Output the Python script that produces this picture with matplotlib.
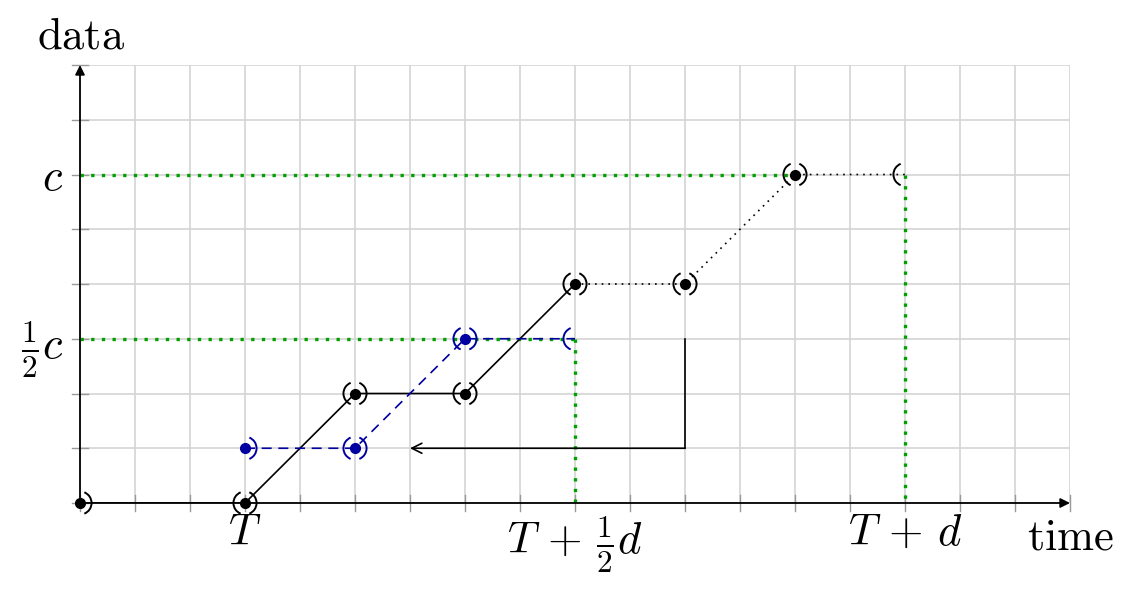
import numpy as np
import matplotlib.pyplot as plt
from matplotlib.patches import Arc

plt.rcParams['mathtext.fontset'] = 'cm'
plt.rcParams['font.family'] = 'serif'
plt.rcParams['font.serif'] = ['cmr10', 'DejaVu Serif']
plt.rcParams['axes.formatter.use_mathtext'] = True

# data
main_x = [0, 3, 5, 7, 9]
main_y = [0, 0, 2, 2, 4]
dot_x = [9, 11, 13, 15]
dot_y = [4, 4, 6, 6]
blue_x = [3, 5, 7, 9]
blue_y = [1, 1, 3, 3]
arrow_path_x = [11, 11, 6]
arrow_path_y = [3, 1, 1]

# which marks to draw at each point: "(" left arc, ")" right arc, "." dot
main_marks = [".R", ".LR", ".LR", ".LR", ".LR"]
dot_marks = [".LR", ".LR", ".LR", "L"]
blue_marks = [".R", ".LR", ".LR", "L"]

xtick_pos = [3, 9, 15]
xtick_lab = [r"$T$", r"$T\,+\,\frac{1}{2}d$", r"$T\,+\,d$"]
ytick_pos = [3, 6]
ytick_lab = [r"$\frac{1}{2}c$", r"$c$"]

green = "#00a000"
blue = "#0000a0"
grid_c = "#d4d4d4"

fig = plt.figure(figsize=(11.33, 5.91), dpi=100)
ax = fig.add_axes([80 / 1133, 88 / 591, 990 / 1133, 438 / 591])
ax.set_xlim(0, 18)
ax.set_ylim(0, 8)
for s in ax.spines.values():
    s.set_visible(False)

# grid
for gx in range(19):
    ax.plot([gx, gx], [0, 8], color=grid_c, lw=1.2, zorder=0)
    ax.plot([gx, gx], [-0.15, 0.15], color="#999999", lw=1.0, zorder=1, clip_on=False)
for gy in range(9):
    ax.plot([0, 18], [gy, gy], color=grid_c, lw=1.2, zorder=0)
    ax.plot([-0.15, 0.15], [gy, gy], color="#999999", lw=1.0, zorder=1, clip_on=False)

ax.set_xticks(xtick_pos)
ax.set_xticklabels(xtick_lab, fontsize=32)
ax.set_yticks(ytick_pos)
ax.set_yticklabels(ytick_lab, fontsize=32)
ax.tick_params(axis="x", length=0, pad=8)
ax.tick_params(axis="y", length=0, pad=12)

# green guides
ax.plot([0, 13], [6, 6], color=green, lw=2.4, ls=(0, (1, 2.2)), zorder=2)
ax.plot([15, 15], [6, 0], color=green, lw=2.4, ls=(0, (1, 2.2)), zorder=2)
ax.plot([0, 9], [3, 3], color=green, lw=2.4, ls=(0, (1, 2.2)), zorder=2)
ax.plot([9, 9], [3, 0], color=green, lw=2.4, ls=(0, (1, 2.2)), zorder=2)

# axes arrows
ax.annotate("", xy=(18, 0), xytext=(0, 0),
            arrowprops=dict(arrowstyle="-|>", color="black", lw=1.3,
                            mutation_scale=14, shrinkA=0, shrinkB=0), zorder=3)
ax.annotate("", xy=(0, 8), xytext=(0, 0),
            arrowprops=dict(arrowstyle="-|>", color="black", lw=1.3,
                            mutation_scale=14, shrinkA=0, shrinkB=0), zorder=3)

# series
ax.plot(main_x, main_y, color="black", lw=1.2, zorder=4)
ax.plot(dot_x, dot_y, color="black", lw=1.2, ls=(0, (1, 3)), zorder=4)
ax.plot(blue_x, blue_y, color=blue, lw=1.2, ls=(0, (6, 4)), zorder=4)

# feedback arrow
ax.plot(arrow_path_x[:2], arrow_path_y[:2], color="black", lw=1.2, zorder=4)
ax.annotate("", xy=(arrow_path_x[2], arrow_path_y[2]),
            xytext=(arrow_path_x[1], arrow_path_y[1]),
            arrowprops=dict(arrowstyle="->", color="black", lw=1.2,
                            mutation_scale=18, shrinkA=0, shrinkB=0), zorder=4)


def marks(xs, ys, kinds, color):
    r = 0.21
    for x, y, k in zip(xs, ys, kinds):
        if "." in k:
            ax.plot(x, y, "o", color=color, ms=7, zorder=6, clip_on=False)
        if "L" in k:
            ax.add_patch(Arc((x, y), 2 * r, 2 * r, theta1=112, theta2=248,
                             color=color, lw=1.4, zorder=6, clip_on=False))
        if "R" in k:
            ax.add_patch(Arc((x, y), 2 * r, 2 * r, theta1=-68, theta2=68,
                             color=color, lw=1.4, zorder=6, clip_on=False))


marks(main_x, main_y, main_marks, "black")
marks(dot_x[1:], dot_y[1:], dot_marks[1:], "black")
marks(blue_x, blue_y, blue_marks, blue)

fig.text(37 / 1133, 1 - 37 / 591, r"$\mathrm{data}$", fontsize=32, va="center", ha="left")
fig.text(1027 / 1133, 1 - 538 / 591, r"$\mathrm{time}$", fontsize=32, va="center", ha="left")

fig.savefig("out.png", dpi=100)
